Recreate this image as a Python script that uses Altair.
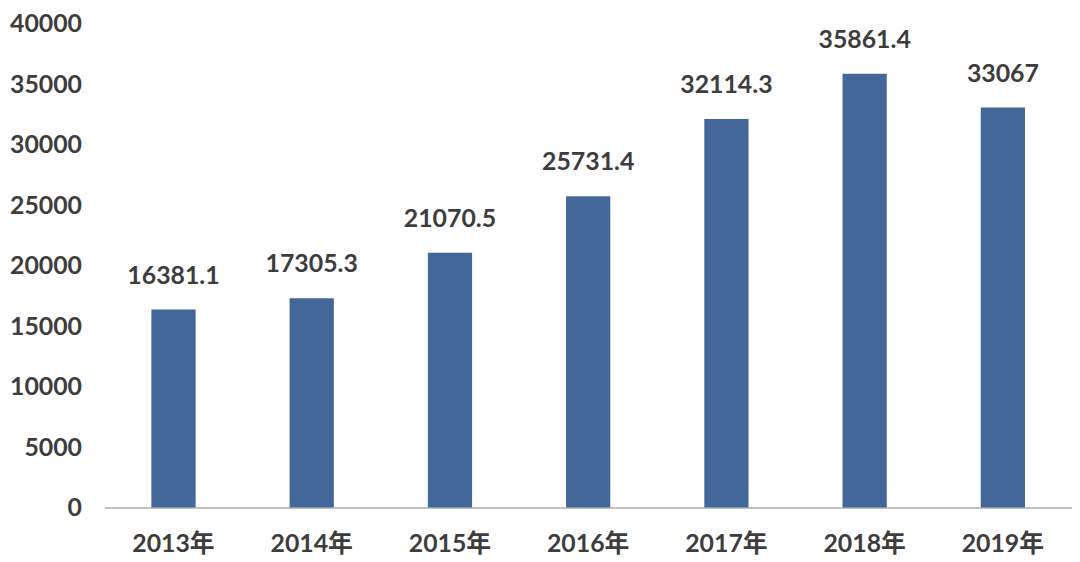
import altair as alt
import pandas as pd

years = ["2013年", "2014年", "2015年", "2016年", "2017年", "2018年", "2019年"]
values = [16381.1, 17305.3, 21070.5, 25731.4, 32114.3, 35861.4, 33067]
labels = ["16381.1", "17305.3", "21070.5", "25731.4", "32114.3", "35861.4", "33067"]
y_ticks = [0, 5000, 10000, 15000, 20000, 25000, 30000, 35000, 40000]

df = pd.DataFrame({"year": years, "value": values, "label": labels})

FONT = "Lato, 'Noto Sans CJK SC', sans-serif"
TXT = "#3d3d3d"

x = alt.X("year:N", sort=years, title=None,
          scale=alt.Scale(paddingInner=0.68, paddingOuter=0.34),
          axis=alt.Axis(labelAngle=0, ticks=False, domainColor="#c0c0c0", domainWidth=2,
                        labelFont=FONT, labelFontSize=25, labelColor=TXT, labelPadding=36,
                        labelFontWeight="bold", labelBaseline="middle"))
y = alt.Y("value:Q", title=None,
          scale=alt.Scale(domain=[0, 40000], nice=False),
          axis=alt.Axis(values=y_ticks, format="d", grid=False, domain=False, ticks=False,
                        labelFont=FONT, labelFontSize=25, labelColor=TXT, labelPadding=23,
                        labelFontWeight="bold"))

bars = alt.Chart(df).mark_bar(color="#44679a").encode(x=x, y=y)
text = alt.Chart(df).mark_text(baseline="bottom", dy=-21, font=FONT, fontSize=25,
                               color=TXT, fontWeight="bold").encode(x=x, y=y, text="label:N")

chart = (bars + text).properties(
    width=974, height=487,
    autosize=alt.AutoSizeParams(type="none"),
    padding={"left": 97, "top": 14, "right": 0, "bottom": 53},
).configure_view(stroke=None)

chart.save("out.html", embed_options={"renderer": "svg", "actions": False})
